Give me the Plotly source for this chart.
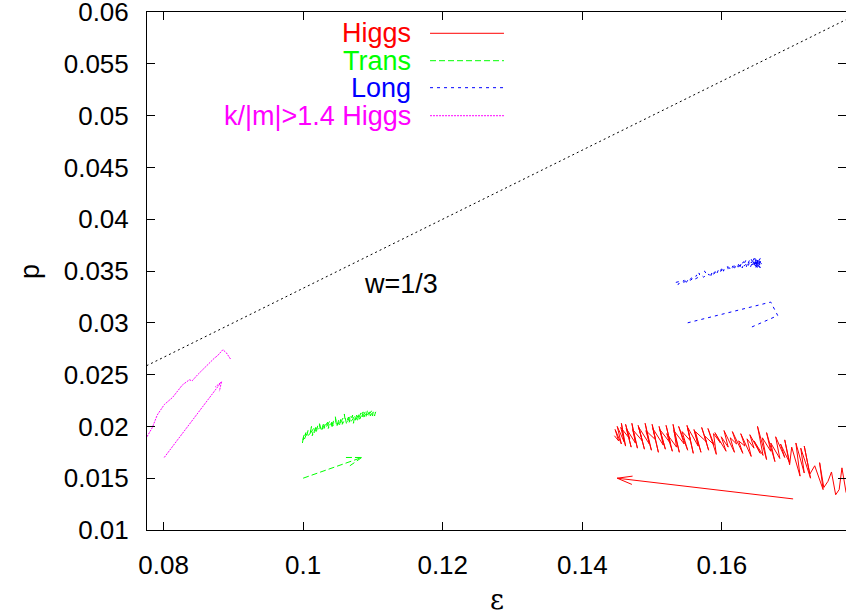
import plotly.graph_objects as go

# ---------------- data ----------------
# Higgs (red, solid) noisy band
eps_higgs = [0.1785, 0.1778, 0.1772, 0.1768, 0.1763, 0.1757, 0.1752, 0.1746, 0.1740, 0.1745,
             0.1733, 0.1726, 0.1718, 0.1727, 0.1713, 0.1718, 0.1706, 0.1712, 0.1700, 0.1697,
             0.1690, 0.1697, 0.1684, 0.1690, 0.1677, 0.1683, 0.1670, 0.1676, 0.1664, 0.1670,
             0.1658, 0.1664, 0.1651, 0.1659, 0.1646, 0.1655, 0.1640, 0.1646, 0.1636, 0.1642,
             0.1627, 0.1633, 0.1624, 0.1630, 0.1615, 0.1621, 0.1612, 0.1618, 0.1603, 0.1609,
             0.1599, 0.1606, 0.1590, 0.1598, 0.1588, 0.1592, 0.1580, 0.1589, 0.1575, 0.1581,
             0.1571, 0.1578, 0.1562, 0.1570, 0.1560, 0.1566, 0.1551, 0.1559, 0.1550, 0.1555,
             0.1543, 0.1551, 0.1538, 0.1546, 0.1531, 0.1539, 0.1530, 0.1535, 0.1521, 0.1529,
             0.1520, 0.1526, 0.1511, 0.1519, 0.1510, 0.1516, 0.1501, 0.1509, 0.1500, 0.1505,
             0.1491, 0.1499, 0.1490, 0.1496, 0.1481, 0.1489, 0.1480, 0.1486, 0.1472, 0.1479,
             0.1471, 0.1476, 0.1463, 0.1470, 0.1462, 0.1468, 0.1455, 0.1462, 0.1456, 0.1460,
             0.1450, 0.1456, 0.1447, 0.1452, 0.1446]
p_higgs = [0.0138, 0.0136, 0.0160, 0.0139, 0.0134, 0.0156, 0.0147, 0.0141, 0.0165, 0.0139,
           0.0162, 0.0154, 0.0181, 0.0150, 0.0179, 0.0155, 0.0184, 0.0152, 0.0180, 0.0163,
           0.0187, 0.0165, 0.0183, 0.0170, 0.0190, 0.0169, 0.0184, 0.0166, 0.0194, 0.0176,
           0.0189, 0.0168, 0.0200, 0.0172, 0.0186, 0.0174, 0.0192, 0.0179, 0.0188, 0.0171,
           0.0193, 0.0181, 0.0186, 0.0174, 0.0195, 0.0183, 0.0189, 0.0175, 0.0196, 0.0180,
           0.0190, 0.0176, 0.0194, 0.0184, 0.0193, 0.0173, 0.0198, 0.0182, 0.0191, 0.0177,
           0.0199, 0.0185, 0.0195, 0.0175, 0.0197, 0.0181, 0.0199, 0.0174, 0.0201, 0.0186,
           0.0195, 0.0177, 0.0200, 0.0183, 0.0196, 0.0175, 0.0202, 0.0180, 0.0193, 0.0176,
           0.0201, 0.0184, 0.0197, 0.0178, 0.0200, 0.0182, 0.0198, 0.0175, 0.0202, 0.0187,
           0.0196, 0.0177, 0.0203, 0.0183, 0.0199, 0.0178, 0.0201, 0.0186, 0.0197, 0.0179,
           0.0203, 0.0184, 0.0198, 0.0180, 0.0202, 0.0188, 0.0199, 0.0181, 0.0203, 0.0185,
           0.0200, 0.0183, 0.0197, 0.0186, 0.0191]
eps_higgs_arrow = [0.1702, 0.1450, 0.1472, None, 0.1450, 0.1471]
p_higgs_arrow = [0.0130, 0.0150, 0.0152, None, 0.0150, 0.0144]

# Trans (green, dashed)
eps_trans = [0.0999, 0.1001, 0.1000, 0.1004, 0.1002, 0.1007, 0.1005, 0.1010, 0.1012, 0.1010,
             0.1015, 0.1013, 0.1018, 0.1016, 0.1021, 0.1019, 0.1024, 0.1023, 0.1026, 0.1029,
             0.1027, 0.1032, 0.1030, 0.1035, 0.1033, 0.1038, 0.1036, 0.1041, 0.1040, 0.1044,
             0.1042, 0.1047, 0.1046, 0.1048, 0.1051, 0.1049, 0.1054, 0.1052, 0.1057, 0.1056,
             0.1060, 0.1059, 0.1062, 0.1065, 0.1063, 0.1068, 0.1066, 0.1071, 0.1069, 0.1074,
             0.1072, 0.1077, 0.1075, 0.1080, 0.1078, 0.1083, 0.1081, 0.1086, 0.1084, 0.1089,
             0.1087, 0.1092, 0.1090, 0.1095, 0.1093, 0.1098, 0.1096, 0.1101, 0.1099, 0.1104,
             0.1102, 0.1105]
p_trans = [0.0184, 0.0192, 0.0187, 0.0194, 0.0188, 0.0196, 0.0190, 0.0193, 0.0200, 0.0193,
           0.0198, 0.0191, 0.0199, 0.0194, 0.0201, 0.0195, 0.0199, 0.0204, 0.0196, 0.0202,
           0.0197, 0.0203, 0.0198, 0.0204, 0.0199, 0.0205, 0.0198, 0.0204, 0.0199, 0.0206,
           0.0200, 0.0205, 0.0210, 0.0200, 0.0206, 0.0201, 0.0207, 0.0201, 0.0208, 0.0202,
           0.0207, 0.0212, 0.0203, 0.0209, 0.0204, 0.0210, 0.0204, 0.0211, 0.0205, 0.0210,
           0.0203, 0.0211, 0.0206, 0.0212, 0.0206, 0.0213, 0.0207, 0.0214, 0.0208, 0.0214,
           0.0209, 0.0215, 0.0209, 0.0214, 0.0210, 0.0215, 0.0210, 0.0215, 0.0210, 0.0214,
           0.0210, 0.0212]
eps_trans_arrow = [0.1000, 0.1084, 0.1061, None, 0.1084, 0.1067]
p_trans_arrow = [0.0150, 0.0170, 0.0170, None, 0.0170, 0.0162]

# Long (blue, dotted)
eps_long = [0.1534, 0.1540, 0.1537, 0.1546, 0.1543, 0.1552, 0.1549, 0.1558, 0.1555, 0.1564,
            0.1561, 0.1569, 0.1567, 0.1574, 0.1578, 0.1575, 0.1582, 0.1586, 0.1584, 0.1591,
            0.1588, 0.1595, 0.1593, 0.1600, 0.1597, 0.1604, 0.1602, 0.1609, 0.1607, 0.1613,
            0.1616, 0.1614, 0.1620, 0.1618, 0.1624, 0.1622, 0.1628, 0.1626, 0.1631, 0.1629,
            0.1634, 0.1632, 0.1637, 0.1635, 0.1640, 0.1638, 0.1643, 0.1641, 0.1646, 0.1644,
            0.1649, 0.1647, 0.1652, 0.1650, 0.1654, 0.1652, 0.1656, 0.1653, 0.1657, 0.1649,
            0.1655, 0.1645, 0.1653, 0.1642, 0.1651, 0.1647, 0.1656, 0.1644, 0.1654, 0.1650,
            0.1657, 0.1646, 0.1655, 0.1643, 0.1652]
p_long = [0.0339, 0.0340, 0.0337, 0.0341, 0.0338, 0.0342, 0.0339, 0.0344, 0.0341, 0.0346,
          0.0342, 0.0345, 0.0348, 0.0344, 0.0347, 0.0350, 0.0346, 0.0349, 0.0345, 0.0350,
          0.0347, 0.0351, 0.0348, 0.0352, 0.0349, 0.0353, 0.0350, 0.0352, 0.0356, 0.0351,
          0.0355, 0.0352, 0.0356, 0.0353, 0.0357, 0.0352, 0.0358, 0.0354, 0.0359, 0.0353,
          0.0360, 0.0355, 0.0358, 0.0354, 0.0361, 0.0355, 0.0359, 0.0354, 0.0362, 0.0356,
          0.0360, 0.0355, 0.0361, 0.0356, 0.0359, 0.0354, 0.0360, 0.0357, 0.0358, 0.0362,
          0.0353, 0.0360, 0.0355, 0.0361, 0.0352, 0.0363, 0.0356, 0.0359, 0.0354, 0.0361,
          0.0357, 0.0353, 0.0362, 0.0356, 0.0359]
eps_long_arrow = [0.1551, 0.1670, 0.1680, 0.1643]
p_long_arrow = [0.0300, 0.0320, 0.0307, 0.0296]

# k/|m|>1.4 Higgs (magenta, fine dots)
eps_khiggs = [0.0772, 0.0776, 0.0784, 0.0791, 0.0801, 0.0813, 0.0827, 0.0837, 0.0841, 0.0849,
              0.0862, 0.0873, 0.0877, 0.0885, 0.0890, 0.0896]
p_khiggs = [0.0185, 0.0190, 0.0199, 0.0211, 0.0221, 0.0228, 0.0240, 0.0245, 0.0244, 0.0250,
            0.0259, 0.0266, 0.0268, 0.0274, 0.0271, 0.0265]
eps_khiggs_arrow = [0.0801, 0.0883, 0.0874, None, 0.0883, 0.0880]
p_khiggs_arrow = [0.0170, 0.0243, 0.0238, None, 0.0243, 0.0234]

# w = 1/3 reference line p = eps/3
eps_w = [0.0750, 0.1800]
p_w = [0.0250, 0.0600]

x_ticks = [0.08, 0.10, 0.12, 0.14, 0.16]
x_ticktext = ["0.08", "0.1", "0.12", "0.14", "0.16"]
y_ticks = [0.010, 0.015, 0.020, 0.025, 0.030, 0.035, 0.040, 0.045, 0.050, 0.055, 0.060]
y_ticktext = ["0.01", "0.015", "0.02", "0.025", "0.03", "0.035", "0.04", "0.045", "0.05", "0.055", "0.06"]

legend_names = ["Higgs", "Trans", "Long", "k/|m|>1.4 Higgs"]
legend_colors = ["#ff0000", "#00ff00", "#0000ff", "#ff00ff"]
legend_dashes = ["solid", "6px,3px", "3px,4px", "2px,1px"]

# ---------------- figure ----------------
FONT = "Liberation Sans, Arial, Helvetica, sans-serif"
fig = go.Figure()

fig.add_trace(go.Scatter(x=eps_w, y=p_w, mode="lines",
                         line=dict(color="black", width=1, dash="2px,3px"), showlegend=False))

series = [
    (eps_higgs, p_higgs, 0), (eps_higgs_arrow, p_higgs_arrow, 0),
    (eps_trans, p_trans, 1), (eps_trans_arrow, p_trans_arrow, 1),
    (eps_long, p_long, 2), (eps_long_arrow, p_long_arrow, 2),
    (eps_khiggs, p_khiggs, 3), (eps_khiggs_arrow, p_khiggs_arrow, 3),
]
for xs, ys, i in series:
    fig.add_trace(go.Scatter(x=xs, y=ys, mode="lines", connectgaps=False,
                             line=dict(color=legend_colors[i], width=1, dash=legend_dashes[i]),
                             showlegend=False))

# manual gnuplot-style legend
row_y = [0.9589, 0.906, 0.8539, 0.7998]
for name, col, dash, yy in zip(legend_names, legend_colors, legend_dashes, row_y):
    fig.add_annotation(x=0.3805, y=yy, xref="paper", yref="paper", text=name,
                       showarrow=False, xanchor="right", yanchor="middle",
                       font=dict(family=FONT, size=27, color=col))
    fig.add_shape(type="line", xref="paper", yref="paper", x0=0.4049, x1=0.5107,
                  y0=yy, y1=yy, line=dict(color=col, width=1, dash=dash))

fig.add_annotation(x=0.1084, y=0.0337, text="w=1/3", showarrow=False,
                   xanchor="left", yanchor="middle", font=dict(family=FONT, size=27, color="black"))

# axis titles
fig.add_annotation(x=0.5, y=-0.1351, xref="paper", yref="paper", text="ε", showarrow=False,
                   xanchor="center", yanchor="middle",
                   font=dict(family="DejaVu Serif, serif", size=27, color="black"))
fig.add_annotation(x=-0.1674, y=0.5, xref="paper", yref="paper", text="p", showarrow=False,
                   xanchor="center", yanchor="middle", textangle=-90,
                   font=dict(family=FONT, size=27, color="black"))

axis_common = dict(showline=True, linecolor="black", linewidth=1, mirror="ticks",
                   ticks="inside", ticklen=8, tickcolor="black", tickwidth=1,
                   showgrid=False, zeroline=False, automargin=False,
                   ticklabeloverflow="allow",
                   tickfont=dict(family=FONT, size=26, color="black"))

fig.update_layout(
    width=846, height=615,
    margin=dict(l=147, r=0, t=12, b=85),
    paper_bgcolor="white", plot_bgcolor="white",
    showlegend=False,
    xaxis=dict(range=[0.07763, 0.17778], tickvals=x_ticks, ticktext=x_ticktext,
               ticklabelstandoff=12, **axis_common),
    yaxis=dict(range=[0.01, 0.06], tickvals=y_ticks, ticktext=y_ticktext,
               ticklabelstandoff=12, **axis_common),
)

fig.write_html("out.html", config={"displayModeBar": False},
               post_script="document.body.style.margin='0px';document.body.style.overflow='hidden';")
